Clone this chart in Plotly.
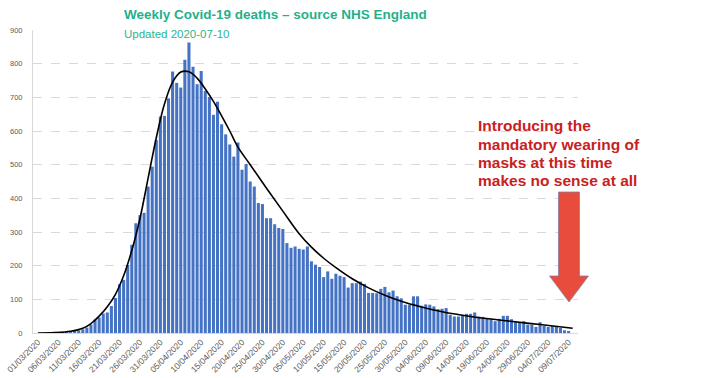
import plotly.graph_objects as go
import pandas as pd

# ---- data ----
start_date = "2020-03-01"
deaths = [0, 0, 0, 1, 0, 1, 1, 2, 3, 5, 8, 11, 16, 25, 40, 46, 58, 61, 80, 104,
          145, 158, 202, 262, 326, 350, 357, 435, 494, 573, 643, 645, 697, 777, 743,
          729, 812, 863, 791, 739, 778, 719, 701, 648, 687, 620, 590, 560, 524, 566,
          485, 502, 450, 435, 386, 383, 341, 341, 323, 312, 309, 267, 253, 257, 250,
          248, 257, 213, 203, 196, 166, 183, 161, 176, 170, 166, 135, 148, 148, 153,
          146, 119, 119, 118, 131, 137, 121, 126, 109, 103, 84, 84, 109, 109, 81,
          85, 84, 79, 71, 72, 74, 54, 49, 49, 52, 57, 57, 61, 49, 48, 42, 41, 35,
          42, 51, 51, 41, 32, 32, 35, 25, 25, 18, 32, 21, 18, 21, 21, 15, 8, 5]

trend_day = [0, 4, 8, 11, 13, 15, 17, 19, 21, 23, 25, 27, 29, 31, 33, 35, 37, 39,
             41, 43, 45, 47, 49, 52, 56, 60, 64, 67, 70, 73, 77, 81, 85, 89, 94,
             99, 106, 115, 123, 131]
trend_value = [0, 1, 5, 14, 28, 50, 78, 115, 170, 245, 340, 460, 580, 680, 745,
               775, 776, 757, 725, 688, 645, 600, 552, 500, 430, 362, 295, 255,
               222, 194, 161, 134, 112, 94, 77, 63, 49, 36, 25, 14]

tick_labels = ["01/03/2020", "06/03/2020", "11/03/2020", "16/03/2020", "21/03/2020",
               "26/03/2020", "31/03/2020", "05/04/2020", "10/04/2020", "15/04/2020",
               "20/04/2020", "25/04/2020", "30/04/2020", "05/05/2020", "10/05/2020",
               "15/05/2020", "20/05/2020", "25/05/2020", "30/05/2020", "04/06/2020",
               "09/06/2020", "14/06/2020", "19/06/2020", "24/06/2020", "29/06/2020",
               "04/07/2020", "09/07/2020"]
tick_step = 5

title_text = "Weekly Covid-19 deaths – source NHS England"
subtitle_text = "Updated 2020-07-10"
note_lines = ["Introducing the", "mandatory wearing of", "masks at this time",
              "makes no sense at all"]

dates = pd.date_range(start_date, periods=len(deaths), freq="D")
day_index = list(range(len(deaths)))
tick_vals = [i * tick_step for i in range(len(tick_labels))]

# ---- geometry (pixels) ----
W, H = 701, 378
L, R, T, B = 33, 578, 30, 333
PW, PH = R - L, B - T


def px(x):
    return (x - L) / PW


def py(y):
    return (B - y) / PH


fig = go.Figure()
fig.add_trace(go.Bar(
    x=day_index, y=deaths, marker=dict(color="#4472c4", line=dict(width=0)),
    customdata=dates.strftime("%d/%m/%Y"), hovertemplate="%{customdata}: %{y}<extra></extra>",
))
fig.add_trace(go.Scatter(
    x=trend_day, y=trend_value, mode="lines",
    line=dict(color="#000000", width=1.6, shape="spline", smoothing=1.0),
    hoverinfo="skip",
))

# red block arrow
cx = 569
shaft_l, shaft_r = cx - 10.5, cx + 10.5
head_l, head_r = cx - 19.5, cx + 19.5
y_top, y_neck, y_tip = 192, 276, 302
pts = [(shaft_l, y_top), (shaft_r, y_top), (shaft_r, y_neck), (head_r, y_neck),
       (cx, y_tip), (head_l, y_neck), (shaft_l, y_neck)]
path = "M " + " L ".join(f"{px(a):.5f},{py(b):.5f}" for a, b in pts) + " Z"

annotations = [
    dict(text=f"<b>{title_text}</b>", xref="paper", yref="paper", x=px(122), y=py(15),
         xanchor="left", yanchor="middle", showarrow=False,
         font=dict(family="Liberation Sans", size=13.5, color="#1fb18b")),
    dict(text=subtitle_text, xref="paper", yref="paper", x=px(122), y=py(34),
         xanchor="left", yanchor="middle", showarrow=False,
         font=dict(family="Liberation Sans", size=11.5, color="#2ab591")),
]
for i, line in enumerate(note_lines):
    annotations.append(dict(
        text=f"<b>{line}</b>", xref="paper", yref="paper", x=px(476), y=py(126 + 18 * i),
        xanchor="left", yanchor="middle", showarrow=False,
        font=dict(family="Liberation Sans", size=15.5, color="#c9211e")))

fig.update_layout(
    width=W, height=H,
    margin=dict(l=L, r=W - R, t=T, b=H - B, pad=0, autoexpand=False),
    paper_bgcolor="white", plot_bgcolor="white",
    showlegend=False, bargap=0.25,
    font=dict(family="Liberation Sans", color="#595959"),
    xaxis=dict(
        range=[-1.2, 132.3], tickmode="array", tickvals=tick_vals, ticktext=tick_labels,
        tickangle=-45, tickfont=dict(size=8.5, color="#595959"), showgrid=False,
        zeroline=False, showline=True, linecolor="#d9d9d9", linewidth=1, ticks="",
        automargin=False,
    ),
    yaxis=dict(
        range=[0, 900], dtick=100, tickfont=dict(size=7.5, color="#595959"),
        showgrid=True, gridcolor="#d9d9d9", griddash="dash", gridwidth=1,
        zeroline=False, showline=True, linecolor="#d9d9d9", linewidth=1, ticks="",
        ticklabelstandoff=8, automargin=False,
    ),
    shapes=[dict(type="path", xref="paper", yref="paper", path=path,
                 fillcolor="#e74c3c", line=dict(color="#8a7f9f", width=0.8), layer="above")],
    annotations=annotations,
)

fig.write_html("out.html", config={"displayModeBar": False},
               post_script="document.body.style.margin='0px';")
